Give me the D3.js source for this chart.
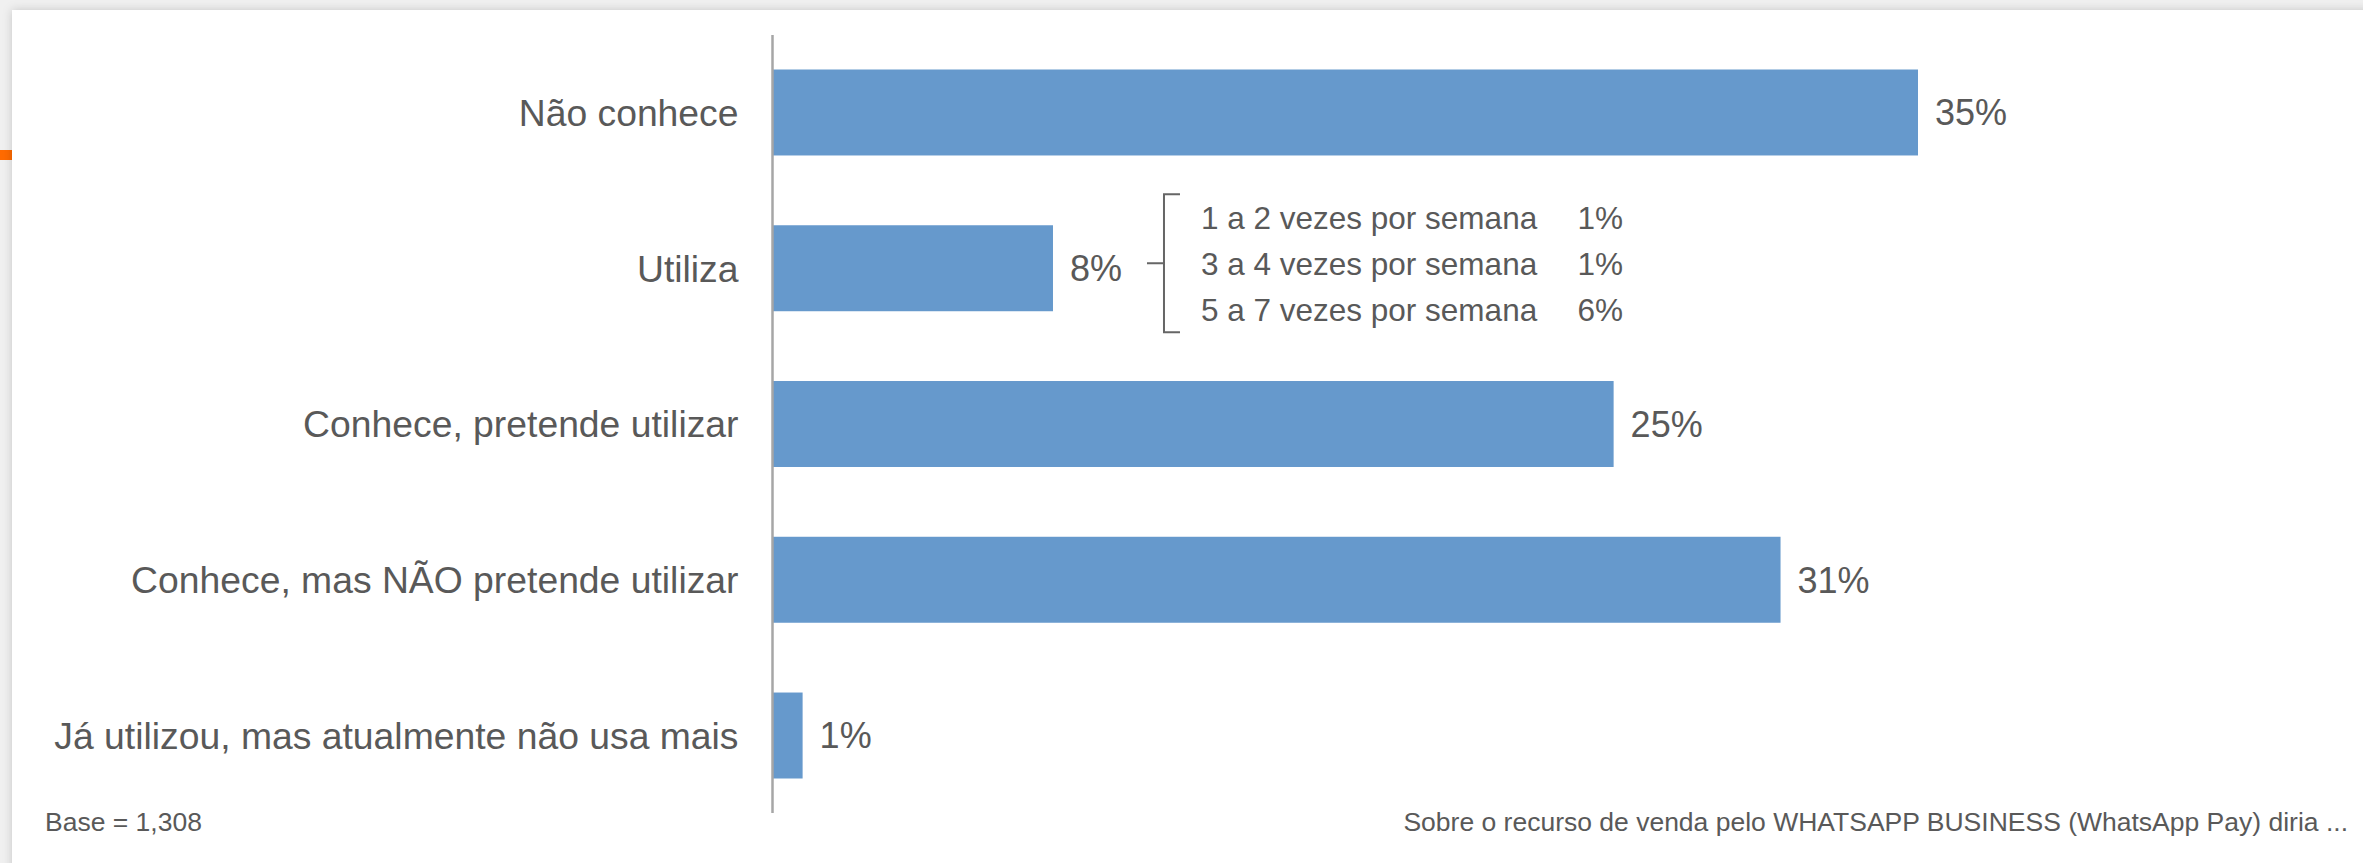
<!DOCTYPE html>
<html>
<head>
<meta charset="utf-8">
<script src="https://cdn.jsdelivr.net/npm/d3@7"></script>
<style>
  html, body { margin: 0; padding: 0; background: #efefef; }
  svg { display: block; }
  text { font-family: "Liberation Sans", Arial, sans-serif; fill: #595959; }
</style>
</head>
<body>
<svg id="chart" width="2363" height="863"></svg>
<script>
// ---- data ----
const categories = [
  "Não conhece",
  "Utiliza",
  "Conhece, pretende utilizar",
  "Conhece, mas NÃO pretende utilizar",
  "Já utilizou, mas atualmente não usa mais"
];
const values = [35.0, 8.57, 25.7, 30.8, 0.92];
const valueLabels = ["35%", "8%", "25%", "31%", "1%"];

const subCategories = ["1 a 2 vezes por semana", "3 a 4 vezes por semana", "5 a 7 vezes por semana"];
const subLabels = ["1%", "1%", "6%"];
const subParent = "Utiliza";

const baseNote = "Base = 1,308";
const questionNote = "Sobre o recurso de venda pelo WHATSAPP BUSINESS (WhatsApp Pay) diria ...";

// ---- layout ----
const W = 2363, H = 863;
const svg = d3.select("#chart");
const defs = svg.append("defs");
const f = defs.append("filter").attr("id", "shadow")
  .attr("x", "-5%").attr("y", "-5%").attr("width", "110%").attr("height", "110%");
f.append("feDropShadow").attr("dx", 0).attr("dy", 0)
  .attr("stdDeviation", 5).attr("flood-color", "#000").attr("flood-opacity", 0.18);

svg.append("rect").attr("width", W).attr("height", H).attr("fill", "#f0f0f0");
svg.append("rect").attr("x", 0).attr("y", 150).attr("width", 14).attr("height", 10).attr("fill", "#ff6a00");
svg.append("rect").attr("x", 12).attr("y", 10).attr("width", W).attr("height", H)
  .attr("fill", "#ffffff").attr("filter", "url(#shadow)");

const axisX = 772.5;
const x = d3.scaleLinear().domain([0, 35]).range([axisX, 1918]);
const y = d3.scaleBand().domain(categories).range([35, 813])
  .paddingInner(0.448).paddingOuter(0.2215);

const g = svg.append("g");

// bars
g.selectAll("rect.bar").data(categories).join("rect")
  .attr("class", "bar")
  .attr("x", x(0))
  .attr("y", d => y(d))
  .attr("width", (d, i) => x(values[i]) - x(0))
  .attr("height", y.bandwidth())
  .attr("fill", "#6699cc");

// axis line (category axis)
const yAxis = d3.axisLeft(y).tickSize(0).tickPadding(34);
const ax = g.append("g").attr("transform", `translate(${axisX},0)`).call(yAxis);
ax.select(".domain").attr("stroke", "#a6a6a6").attr("stroke-width", 2.5)
  .attr("d", `M0,35V813`);
ax.selectAll(".tick text")
  .attr("font-size", 37.3)
  .attr("font-family", "'Liberation Sans', Arial, sans-serif")
  .attr("fill", "#595959")
  .attr("dy", "0.36em");

// value labels
g.selectAll("text.val").data(categories).join("text")
  .attr("class", "val")
  .attr("x", (d, i) => x(values[i]) + 17)
  .attr("y", d => y(d) + y.bandwidth() / 2)
  .attr("dy", "0.36em")
  .attr("font-size", 36)
  .text((d, i) => valueLabels[i]);

// bracket breakdown for "Utiliza"
const pi = categories.indexOf(subParent);
const cy = y(subParent) + y.bandwidth() / 2 - 5;
const bx = x(values[pi]) + 94;   // bracket tick start
const vx = bx + 17;              // bracket vertical
const half = 69;
const bracket = g.append("g");
bracket.append("path")
  .attr("d", `M${bx},${cy}H${vx}M${vx + 16},${cy - half}H${vx}V${cy + half}H${vx + 16}`)
  .attr("fill", "none").attr("stroke", "#666666").attr("stroke-width", 2);

const rowStep = 46;
bracket.selectAll("text.sub").data(subCategories).join("text")
  .attr("class", "sub")
  .attr("x", vx + 37)
  .attr("y", (d, i) => cy + (i - 1) * rowStep)
  .attr("dy", "0.36em")
  .attr("font-size", 31.5)
  .text(d => d);
bracket.selectAll("text.subv").data(subLabels).join("text")
  .attr("class", "subv")
  .attr("x", vx + 459)
  .attr("y", (d, i) => cy + (i - 1) * rowStep)
  .attr("dy", "0.36em")
  .attr("text-anchor", "end")
  .attr("font-size", 31.5)
  .text(d => d);

// footnotes
svg.append("text").attr("x", 45).attr("y", 831).attr("font-size", 26.5).text(baseNote);
svg.append("text").attr("x", 2348).attr("y", 831).attr("font-size", 26.5)
  .attr("text-anchor", "end").text(questionNote);
</script>
</body>
</html>
